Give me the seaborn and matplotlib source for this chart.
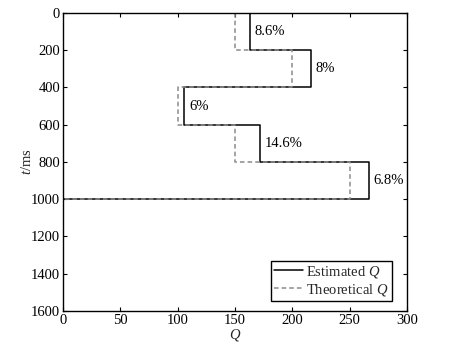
import numpy as np
import pandas as pd
import matplotlib
matplotlib.use("Agg")
import matplotlib.pyplot as plt
import seaborn as sns

# Data
boundaries = [0, 200, 400, 600, 800, 1000, 1600]
estimated_q = [162.9, 216, 106, 171.9, 267, 0]
theoretical_q = [150, 200, 100, 150, 250, 0]
error_labels = ["8.6%", "8%", "6%", "14.6%", "6.8%"]
xticks = [0, 50, 100, 150, 200, 250, 300]
yticks = [0, 200, 400, 600, 800, 1000, 1200, 1400, 1600]

sns.set_theme(style="white")
plt.rcParams['font.family'] = ['Liberation Serif', 'DejaVu Serif']
plt.rcParams['mathtext.fontset'] = 'custom'
plt.rcParams['mathtext.it'] = 'Liberation Serif:italic'
plt.rcParams['mathtext.rm'] = 'Liberation Serif'

def step_path(vals):
    q, t = [], []
    for i, v in enumerate(vals):
        q += [v, v]
        t += [boundaries[i], boundaries[i + 1]]
    return q, t

qe, te = step_path(estimated_q)
qt, tt = step_path(theoretical_q)
df = pd.concat([
    pd.DataFrame({"Q": qe, "t": te, "series": "Estimated $Q$"}),
    pd.DataFrame({"Q": qt, "t": tt, "series": "Theoretical $Q$"}),
])

fig = plt.figure(figsize=(4.5, 3.51), dpi=100)
ax = fig.add_axes([0.14, 0.114, 0.764, 0.849])

sns.lineplot(data=df, x="Q", y="t", hue="series", style="series", sort=False,
             estimator=None, orient="y",
             palette={"Estimated $Q$": "black", "Theoretical $Q$": "#8c8c8c"},
             dashes={"Estimated $Q$": "", "Theoretical $Q$": (3, 2)},
             linewidth=1.1, ax=ax)

for i, lab in enumerate(error_labels):
    ax.text(estimated_q[i] + 4, (boundaries[i] + boundaries[i + 1]) / 2, lab,
            va="center", ha="left", fontsize=10.5, color="black")

ax.set_xlim(0, 300)
ax.set_ylim(1600, 0)
ax.set_xticks(xticks)
ax.set_yticks(yticks)
ax.set_xlabel("$Q$", fontsize=10.5, labelpad=0)
ax.set_ylabel("$t$/ms", fontsize=10.5, labelpad=-2)
ax.tick_params(direction="in", length=3, width=0.8, labelsize=10.5, colors="black",
               top=True, right=True, bottom=True, left=True, pad=2)
for s in ax.spines.values():
    s.set_color("black")
    s.set_linewidth(1.0)

leg = ax.legend(loc="lower right", bbox_to_anchor=(0.956, 0.034), fontsize=10.5,
                frameon=True, fancybox=False, edgecolor="black", framealpha=1,
                handlelength=2.0, handletextpad=0.2, borderpad=0.2,
                labelspacing=0.15, borderaxespad=0.0)
leg.get_frame().set_linewidth(1.0)

fig.savefig("out.png", dpi=100)
